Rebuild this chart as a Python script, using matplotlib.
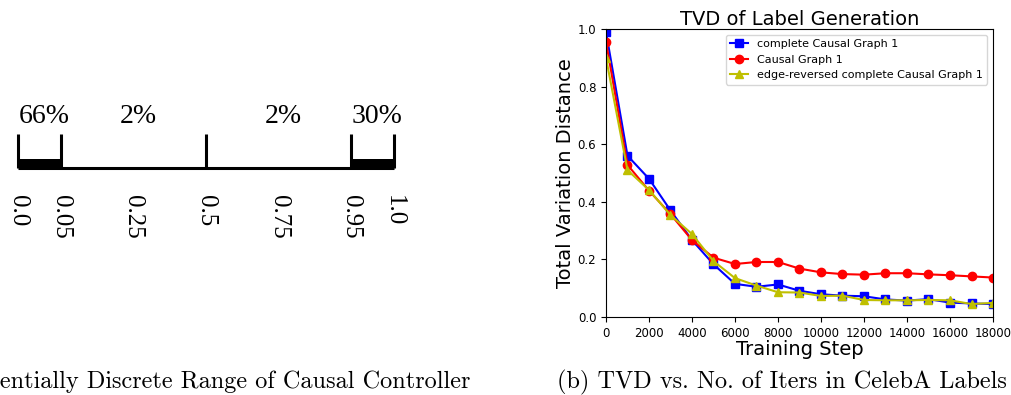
import numpy as np
import matplotlib
matplotlib.use("Agg")
import matplotlib.pyplot as plt

# left panel: range of the causal controller output
edges = [0.0, 0.05, 0.5, 0.95, 1.0]
shares = ["66%", "2%", "2%", "30%"]
tick_vals = [0.0, 0.05, 0.25, 0.5, 0.75, 0.95, 1.0]
tick_labels = ["0.0", "0.05", "0.25", "0.5", "0.75", "0.95", "1.0"]
heavy = [(0.0, 0.05), (0.95, 1.0)]

# right panel: TVD vs training step
steps = np.arange(0, 19000, 1000)
tvd_complete = [0.99, 0.56, 0.48, 0.37, 0.267, 0.183, 0.115, 0.105, 0.113, 0.091,
                0.079, 0.074, 0.072, 0.061, 0.057, 0.062, 0.050, 0.047, 0.045]
tvd_graph = [0.956, 0.528, 0.439, 0.357, 0.267, 0.206, 0.184, 0.191, 0.191, 0.168,
             0.155, 0.149, 0.147, 0.152, 0.152, 0.148, 0.145, 0.141, 0.137]
tvd_reversed = [0.90, 0.51, 0.441, 0.354, 0.288, 0.194, 0.135, 0.109, 0.086, 0.085,
                0.073, 0.074, 0.059, 0.058, 0.058, 0.059, 0.058, 0.045, 0.049]

fig = plt.figure(figsize=(10.12, 3.95), dpi=100)

# the number line is stretched near both ends
warp_in = [0.0, 0.05, 0.25, 0.5, 0.75, 0.95, 1.0]
warp_out = [0.0, 0.114, 0.307, 0.5, 0.693, 0.886, 1.0]
def warp(v):
    return np.interp(v, warp_in, warp_out)

serif = "Liberation Serif"
axl = fig.add_axes([18 / 1012, 145 / 395, 376 / 1012, 150 / 395])
axl.set_xlim(0, 1)
axl.set_ylim(0, 1)
axl.axis("off")

base_y, tick_top, bar_top = 0.547, 0.773, 0.607
axl.plot([0, 1], [base_y, base_y], color="black", lw=2.2, solid_capstyle="butt", clip_on=False)
for e in edges:
    axl.plot([warp(e), warp(e)], [base_y, tick_top], color="black", lw=2.2,
             solid_capstyle="butt", clip_on=False)
for a, b in heavy:
    axl.fill_between([warp(a), warp(b)], base_y, bar_top, color="black", lw=0)
for i, s in enumerate(shares):
    mid = (warp(edges[i]) + warp(edges[i + 1])) / 2 + 0.012
    axl.text(mid, 0.89, s, ha="center", va="center", fontsize=20, family=serif)
for v, lab in zip(tick_vals, tick_labels):
    axl.text(warp(v), 0.367, lab, ha="center", va="top", rotation=270,
             fontsize=18, family=serif)

fig.text(470 / 1012, 1 - 382 / 395, "(a) Essentially Discrete Range of Causal Controller",
         ha="right", va="center", fontsize=17.5, family="cmr10")

# right panel
ax = fig.add_axes([606 / 1012, 1 - 317 / 395, 387 / 1012, 288 / 395])
ax.plot(steps, tvd_complete, "bs-", ms=6, lw=1.5, label="complete Causal Graph 1")
ax.plot(steps, tvd_graph, "ro-", ms=6, lw=1.5, label="Causal Graph 1")
ax.plot(steps, tvd_reversed, "y^-", ms=6, lw=1.5, label="edge-reversed complete Causal Graph 1")
ax.set_xlim(0, 18000)
ax.set_ylim(0, 1.0)
ax.set_xticks(np.arange(0, 18001, 2000))
ax.set_yticks(np.arange(0, 1.01, 0.2))
ax.tick_params(labelsize=8.5)
ax.set_title("TVD of Label Generation", fontsize=14, pad=3)
ax.set_xlabel("Training Step", fontsize=14, labelpad=0)
ax.set_ylabel("Total Variation Distance", fontsize=14, labelpad=2)
ax.legend(loc="upper right", fontsize=8, handlelength=1.6)

fig.text(557 / 1012, 1 - 382 / 395, "(b) TVD vs. No. of Iters in CelebA Labels",
         ha="left", va="center", fontsize=17.5, family="cmr10")

fig.savefig("out.png", dpi=100)
